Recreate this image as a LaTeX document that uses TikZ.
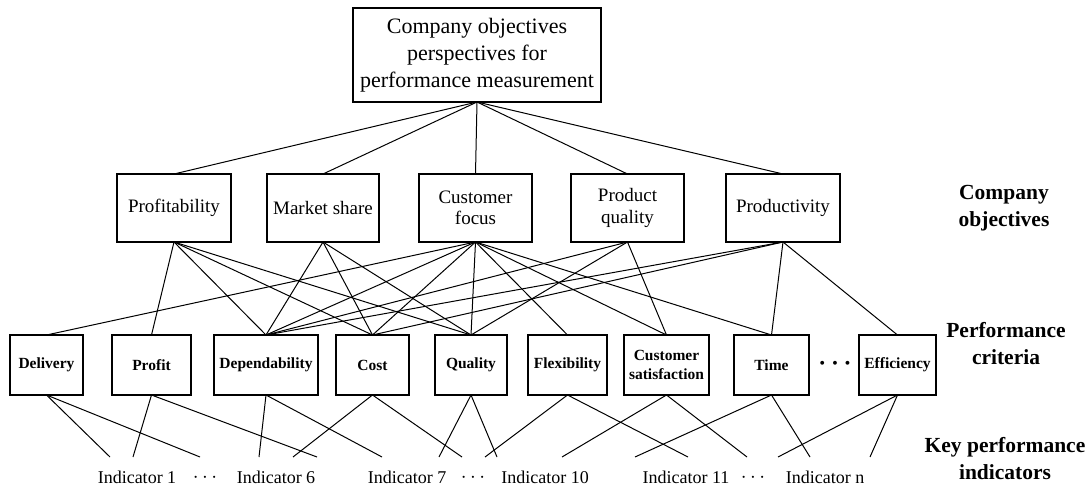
\documentclass[tikz,border=0pt]{standalone}
\usepackage{fontspec}
\setmainfont{Liberation Serif}
\begin{document}
\begin{tikzpicture}[x=1pt,y=-1pt,
  every node/.style={inner sep=0pt, outer sep=0pt},
  topbox/.style={draw, line width=1.1pt, align=center, minimum width=248pt, minimum height=94pt, font=\fontsize{22}{27}\selectfont},
  objbox/.style={draw, line width=1.1pt, minimum height=68pt, align=center, font=\fontsize{19}{21.5}\selectfont},
  critbox/.style={draw, line width=1.1pt, minimum height=60pt, align=center, font=\bfseries\fontsize{15.5}{19.5}\selectfont},
  kpi/.style={font=\fontsize{18}{22}\selectfont},
  kpidots/.style={font=\fontsize{20}{22}\selectfont},
  bigdots/.style={font={\fontsize{26}{28}\selectfont\boldmath}},
  sidelabel/.style={align=center, font=\bfseries\fontsize{21.5}{27}\selectfont},
  link/.style={line width=1pt}]
\useasboundingbox (0,0) rectangle (1091,486);

% top
\node[topbox] (top) at (477,55) {Company objectives\\perspectives for\\performance measurement};

% company objectives
\node[objbox, minimum width=114pt] (prof) at (174,208) {Profitability};
\node[objbox, minimum width=112pt] (mkt)  at (323,208) {Market share};
\node[objbox, minimum width=113pt] (cf)   at (475.5,208) {Customer\\focus};
\node[objbox, minimum width=113pt] (pq)   at (627.5,208) {Product\\quality};
\node[objbox, minimum width=114pt] (prod) at (783,208) {Productivity};

% performance criteria
\node[critbox, minimum width=73pt]  (del)  at (46.5,365) {Delivery};
\node[critbox, minimum width=79pt]  (pft)  at (151.5,365) {Profit};
\node[critbox, minimum width=104pt] (dep)  at (266,365) {Dependability};
\node[critbox, minimum width=73pt]  (cost) at (372.5,365) {Cost};
\node[critbox, minimum width=72pt]  (qual) at (471,365) {Quality};
\node[critbox, minimum width=79pt]  (flex) at (567.5,365) {Flexibility};
\node[critbox, minimum width=85pt]  (cs)   at (666.5,365) {Customer\\satisfaction};
\node[critbox, minimum width=75pt]  (time) at (771.5,365) {Time};
\node[bigdots] (cdots) at (835,364) {$\cdots$};
\node[critbox, minimum width=77pt]  (eff)  at (897.5,365) {Efficiency};

% indicators
\node[kpi] (ind1)  at (137,477) {Indicator 1};
\node[kpidots] (dA)    at (205,478) {$\cdots$};
\node[kpi] (ind6)  at (276,477) {Indicator 6};
\node[kpi] (ind7)  at (407,477) {Indicator 7};
\node[kpidots] (dB)    at (473,478) {$\cdots$};
\node[kpi] (ind10) at (545,477) {Indicator 10};
\node[kpi] (ind11) at (686,477) {Indicator 11};
\node[kpidots] (dC)    at (753,478) {$\cdots$};
\node[kpi] (indn)  at (825,477) {Indicator n};

% side labels
\node[sidelabel] (lobj)  at (1004,208) {Company\\objectives};
\node[sidelabel] (lcrit) at (1006,344) {Performance\\criteria};
\node[sidelabel] (lkpi)  at (1005,459) {Key performance\\indicators};

% free ends toward indicators
\coordinate (e1) at (110,457);
\coordinate (e2) at (200,457);
\coordinate (e3) at (133,457);
\coordinate (e4) at (317,457);
\coordinate (e5) at (259,457);
\coordinate (e6) at (382,457);
\coordinate (e7) at (293,457);
\coordinate (e8) at (462,457);
\coordinate (e9) at (439,457);
\coordinate (e10) at (497,457);
\coordinate (e11) at (485,457);
\coordinate (e12) at (688,457);
\coordinate (e13) at (562,457);
\coordinate (e14) at (747,457);
\coordinate (e15) at (635,457);
\coordinate (e16) at (810,457);
\coordinate (e17) at (778,457);
\coordinate (e18) at (870,457);

% top to objectives
\foreach \n in {prof,mkt,cf,pq,prod}
  \draw[link] (top.south) -- (\n.north);

% objectives to criteria
\foreach \n in {pft,dep,cost,qual}
  \draw[link] (prof.south) -- (\n.north);
\foreach \n in {dep,cost,qual}
  \draw[link] (mkt.south) -- (\n.north);
\foreach \n in {del,dep,cost,qual,flex,cs,time}
  \draw[link] (cf.south) -- (\n.north);
\foreach \n in {dep,qual,cs}
  \draw[link] (pq.south) -- (\n.north);
\foreach \n in {dep,cost,time,eff}
  \draw[link] (prod.south) -- (\n.north);

% criteria to indicators
\draw[link] (del.south) -- (e1);
\draw[link] (del.south) -- (e2);
\draw[link] (pft.south) -- (e3);
\draw[link] (pft.south) -- (e4);
\draw[link] (dep.south) -- (e5);
\draw[link] (dep.south) -- (e6);
\draw[link] (cost.south) -- (e7);
\draw[link] (cost.south) -- (e8);
\draw[link] (qual.south) -- (e9);
\draw[link] (qual.south) -- (e10);
\draw[link] (flex.south) -- (e11);
\draw[link] (flex.south) -- (e12);
\draw[link] (cs.south) -- (e13);
\draw[link] (cs.south) -- (e14);
\draw[link] (time.south) -- (e15);
\draw[link] (time.south) -- (e16);
\draw[link] (eff.south) -- (e17);
\draw[link] (eff.south) -- (e18);
\end{tikzpicture}
\end{document}
